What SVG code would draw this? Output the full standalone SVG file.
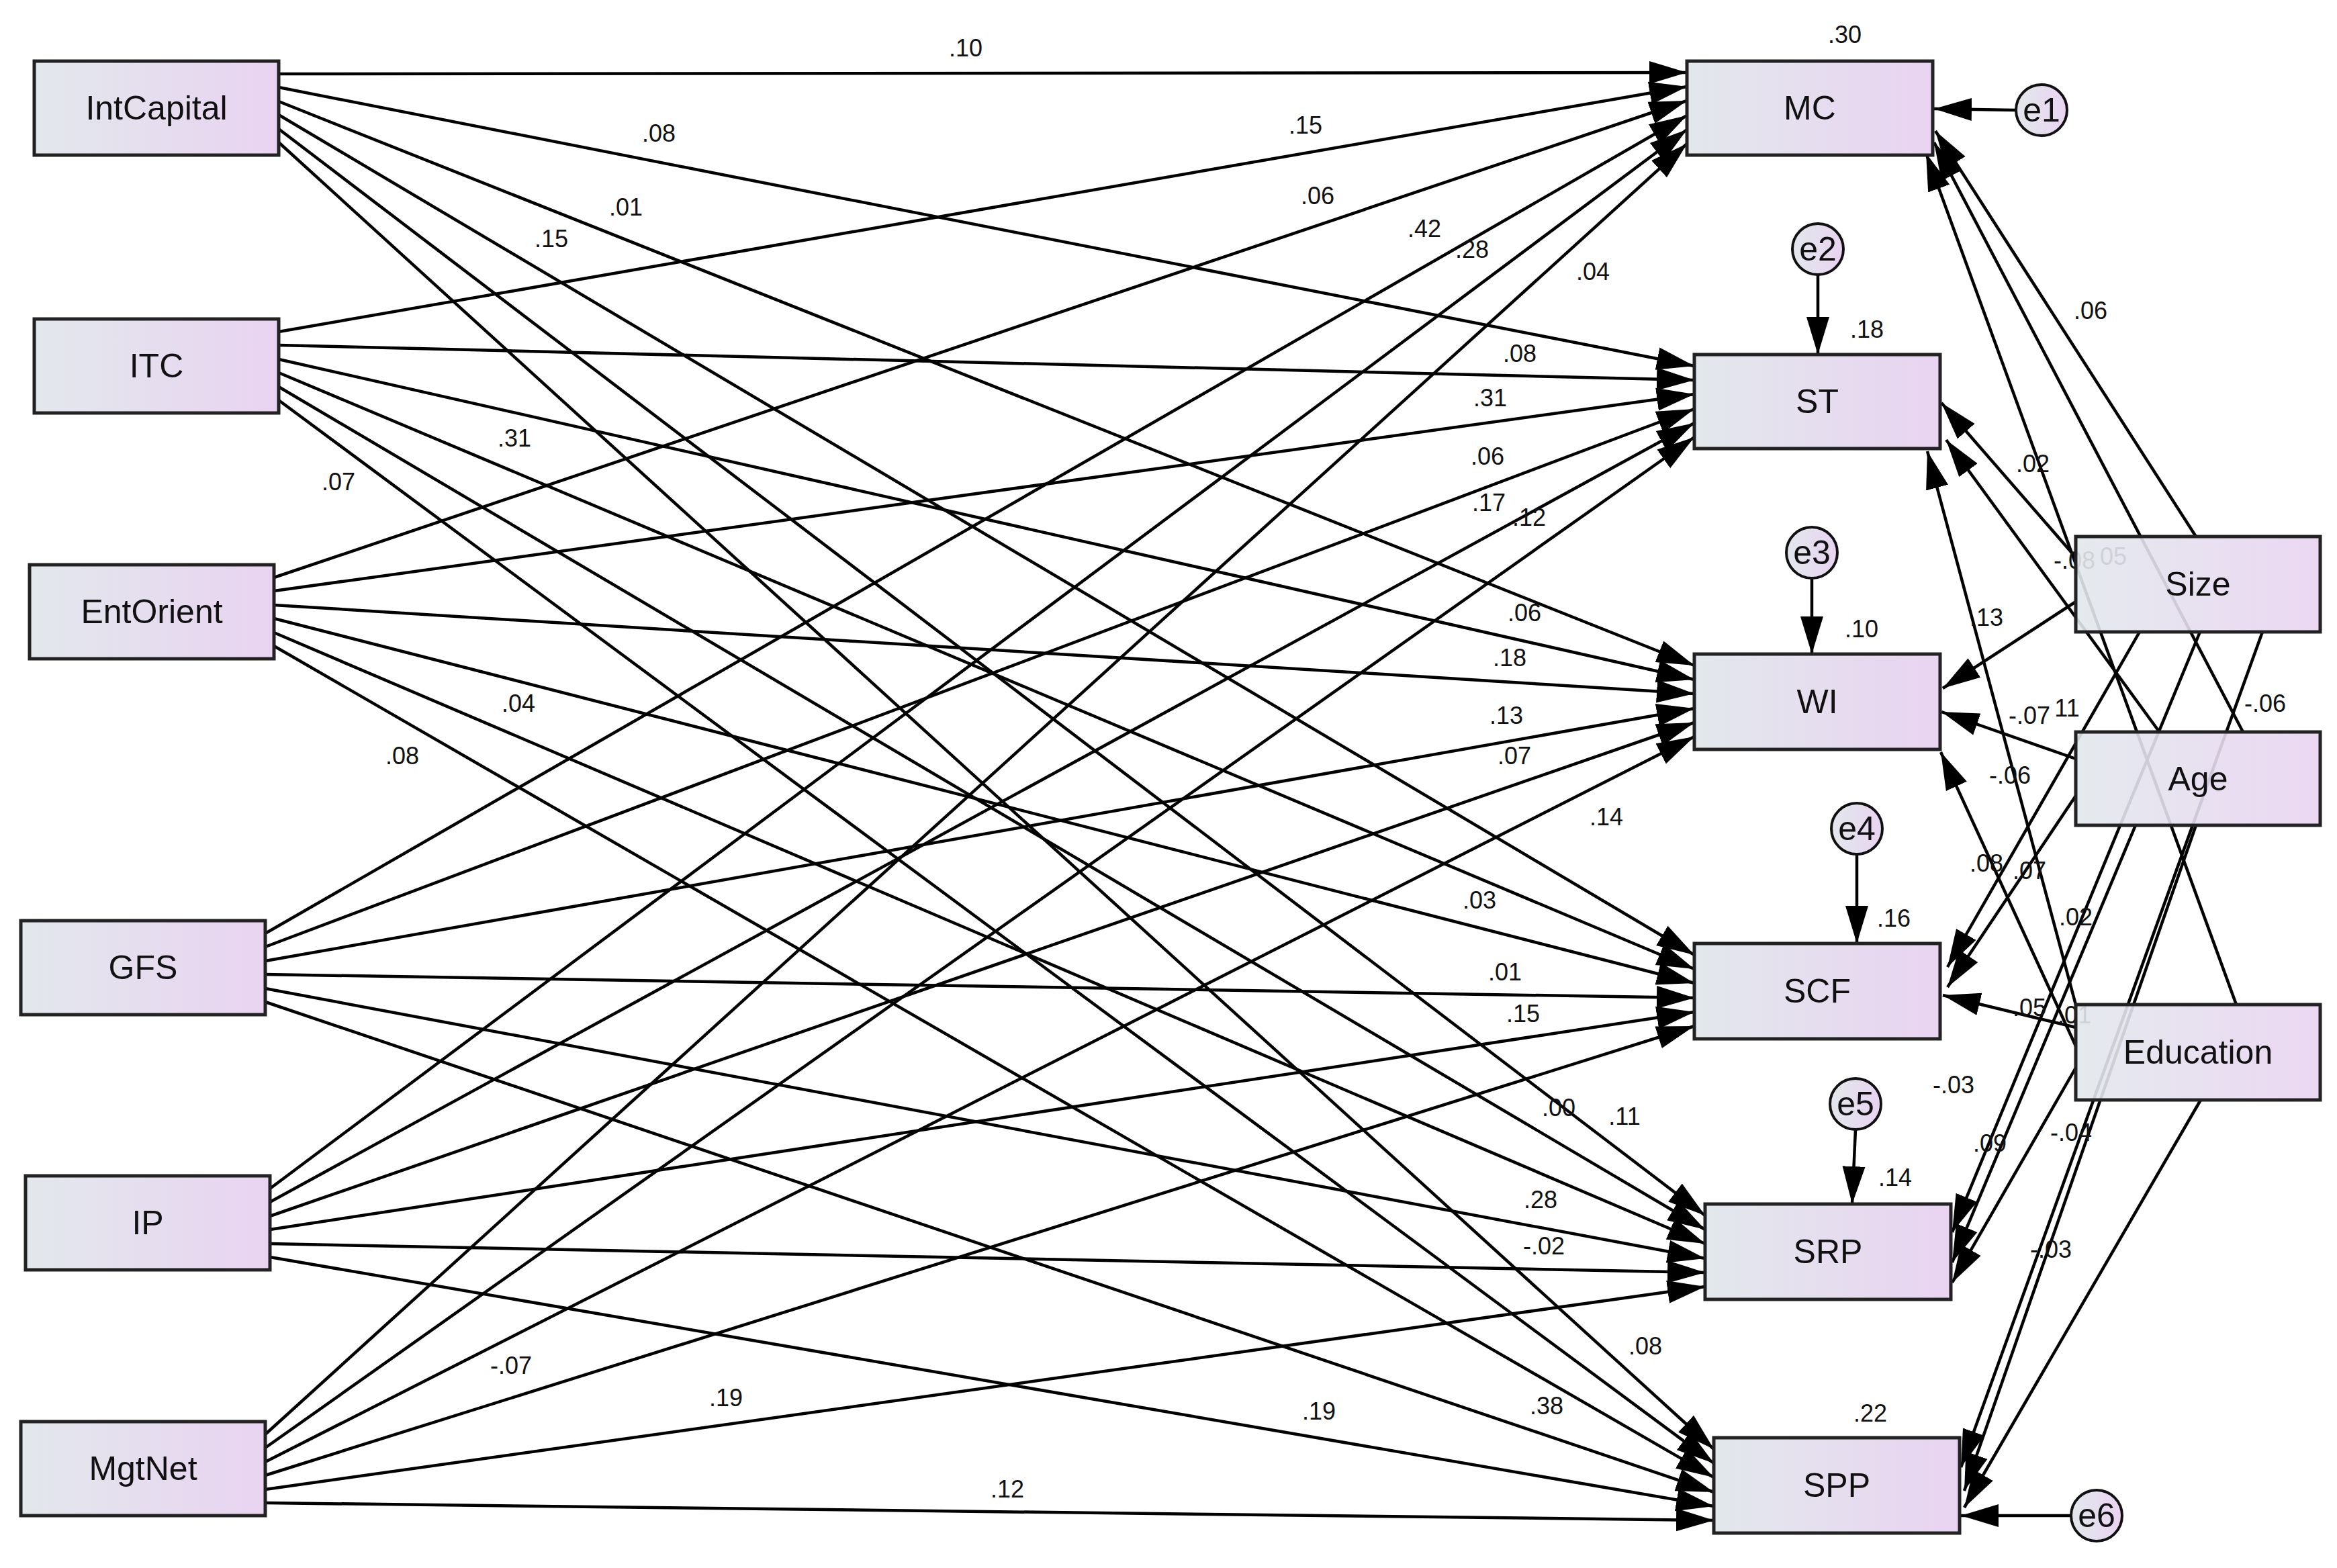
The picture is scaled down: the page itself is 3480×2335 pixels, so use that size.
<svg xmlns="http://www.w3.org/2000/svg" width="3480" height="2335" viewBox="0 0 3480 2335">
<defs>
<linearGradient id="g" x1="0" y1="0" x2="1" y2="0"><stop offset="0" stop-color="#e2e8ec"/><stop offset="1" stop-color="#e9d3f1"/></linearGradient>
<marker id="a" markerUnits="userSpaceOnUse" markerWidth="60" markerHeight="40" refX="56" refY="20" orient="auto"><path d="M0,3 L56,20 L0,37 Z" fill="#000"/></marker>
</defs>
<style>
.b{fill:url(#g);stroke:#222;stroke-width:5}
.e{fill:url(#g);stroke:#111;stroke-width:4}
.t{font-family:"Liberation Sans",Arial,sans-serif;font-size:50px;fill:#111;text-anchor:middle;dominant-baseline:central}
.l{font-family:"Liberation Sans",Arial,sans-serif;font-size:36px;fill:#111;text-anchor:middle;dominant-baseline:central}
#connectors line{stroke:#000;stroke-width:4.5;marker-end:url(#a)}
</style>
<rect width="3480" height="2335" fill="#fff"/>
<g id="connectors">
<line x1="415" y1="110" x2="2512" y2="108"/><line x1="415" y1="130" x2="2523" y2="545"/><line x1="415" y1="151" x2="2523" y2="991"/><line x1="415" y1="171" x2="2523" y2="1422"/><line x1="415" y1="192" x2="2539" y2="1810"/><line x1="415" y1="212" x2="2552" y2="2158"/>
<line x1="415" y1="494" x2="2512" y2="129"/><line x1="415" y1="514" x2="2523" y2="566"/><line x1="415" y1="535" x2="2523" y2="1012"/><line x1="415" y1="555" x2="2523" y2="1443"/><line x1="415" y1="576" x2="2539" y2="1831"/><line x1="415" y1="596" x2="2552" y2="2179"/>
<line x1="408" y1="860" x2="2512" y2="150"/><line x1="408" y1="880" x2="2523" y2="587"/><line x1="408" y1="901" x2="2523" y2="1033"/><line x1="408" y1="921" x2="2523" y2="1464"/><line x1="408" y1="942" x2="2539" y2="1852"/><line x1="408" y1="962" x2="2552" y2="2200"/>
<line x1="395" y1="1390" x2="2512" y2="172"/><line x1="395" y1="1410" x2="2523" y2="609"/><line x1="395" y1="1431" x2="2523" y2="1055"/><line x1="395" y1="1451" x2="2523" y2="1486"/><line x1="395" y1="1472" x2="2539" y2="1874"/><line x1="395" y1="1492" x2="2552" y2="2222"/>
<line x1="402" y1="1770" x2="2512" y2="193"/><line x1="402" y1="1790" x2="2523" y2="630"/><line x1="402" y1="1811" x2="2523" y2="1076"/><line x1="402" y1="1831" x2="2523" y2="1507"/><line x1="402" y1="1852" x2="2539" y2="1895"/><line x1="402" y1="1872" x2="2552" y2="2243"/>
<line x1="395" y1="2136" x2="2512" y2="214"/><line x1="395" y1="2156" x2="2523" y2="651"/><line x1="395" y1="2177" x2="2523" y2="1097"/><line x1="395" y1="2197" x2="2523" y2="1528"/><line x1="395" y1="2218" x2="2539" y2="1916"/><line x1="395" y1="2238" x2="2552" y2="2264"/>
<line x1="3270" y1="799" x2="2882" y2="195"/><line x1="3091" y1="830" x2="2891" y2="600"/><line x1="3091" y1="896" x2="2893" y2="1025"/><line x1="3186" y1="941" x2="2900" y2="1440"/><line x1="3276" y1="941" x2="2907" y2="1835"/><line x1="3369" y1="941" x2="2920" y2="2185"/>
<line x1="3340" y1="1090" x2="2880" y2="212"/><line x1="3217" y1="1092" x2="2898" y2="655"/><line x1="3091" y1="1130" x2="2891" y2="1060"/><line x1="3091" y1="1185" x2="2900" y2="1470"/><line x1="3180" y1="1229" x2="2907" y2="1880"/><line x1="3270" y1="1229" x2="2925" y2="2220"/>
<line x1="3330" y1="1496" x2="2868" y2="228"/><line x1="3092" y1="1500" x2="2870" y2="672"/><line x1="3092" y1="1560" x2="2890" y2="1120"/><line x1="3091" y1="1530" x2="2893" y2="1482"/><line x1="3091" y1="1590" x2="2907" y2="1910"/><line x1="3277" y1="1638" x2="2925" y2="2245"/>
<line x1="3002" y1="164" x2="2880" y2="162"/><line x1="2707" y1="409" x2="2707" y2="528"/><line x1="2698" y1="861" x2="2698" y2="974"/><line x1="2765" y1="1272" x2="2765" y2="1405"/><line x1="2763" y1="1682" x2="2758" y2="1793"/><line x1="3084" y1="2257" x2="2920" y2="2257"/>
</g>
<g id="path-labels">
<text class="l" x="1438" y="71">.10</text><text class="l" x="981" y="198">.08</text><text class="l" x="1944" y="186">.15</text><text class="l" x="932" y="308">.01</text><text class="l" x="1962" y="291">.06</text><text class="l" x="821" y="355">.15</text><text class="l" x="2121" y="340">.42</text><text class="l" x="2192" y="371">.28</text><text class="l" x="2372" y="404">.04</text><text class="l" x="2263" y="526">.08</text><text class="l" x="2219" y="592">.31</text><text class="l" x="766" y="652">.31</text><text class="l" x="504" y="717">.07</text><text class="l" x="2215" y="679">.06</text><text class="l" x="2217" y="748">.17</text><text class="l" x="2277" y="770">.12</text><text class="l" x="2270" y="912">.06</text><text class="l" x="2248" y="979">.18</text><text class="l" x="772" y="1047">.04</text><text class="l" x="2243" y="1065">.13</text><text class="l" x="2255" y="1125">.07</text><text class="l" x="599" y="1125">.08</text><text class="l" x="2392" y="1216">.14</text><text class="l" x="2203" y="1340">.03</text><text class="l" x="2241" y="1447">.01</text><text class="l" x="2268" y="1509">.15</text><text class="l" x="2321" y="1649">.00</text><text class="l" x="2419" y="1662">.11</text><text class="l" x="2294" y="1786">.28</text><text class="l" x="2299" y="1855">-.02</text><text class="l" x="2450" y="2004">.08</text><text class="l" x="761" y="2033">-.07</text><text class="l" x="1081" y="2081">.19</text><text class="l" x="1964" y="2101">.19</text><text class="l" x="2303" y="2093">.38</text><text class="l" x="1500" y="2217">.12</text>
<text class="l" x="3113" y="462">.06</text><text class="l" x="3027" y="690">.02</text><text class="l" x="3089" y="834">-.08</text><text class="l" x="3147" y="828">05</text><text class="l" x="2958" y="919">.13</text><text class="l" x="3022" y="1065">-.07</text><text class="l" x="3078" y="1054">11</text><text class="l" x="3373" y="1047">-.06</text><text class="l" x="2993" y="1154">-.06</text><text class="l" x="2958" y="1285">.08</text><text class="l" x="3022" y="1296">.07</text><text class="l" x="3091" y="1365">.02</text><text class="l" x="3022" y="1500">.05</text><text class="l" x="3089" y="1511">.01</text><text class="l" x="2909" y="1615">-.03</text><text class="l" x="2963" y="1702">.09</text><text class="l" x="3084" y="1686">-.04</text><text class="l" x="3054" y="1860">-.03</text>
<text class="l" x="2747" y="51">.30</text><text class="l" x="2780" y="490">.18</text><text class="l" x="2772" y="936">.10</text><text class="l" x="2820" y="1367">.16</text><text class="l" x="2822" y="1753">.14</text><text class="l" x="2785" y="2104">.22</text>
</g>
<g id="IntCapital"><rect class="b" x="51" y="91" width="364" height="140"/><text class="t" x="233" y="161">IntCapital</text></g>
<g id="ITC"><rect class="b" x="51" y="475" width="364" height="140"/><text class="t" x="233" y="545">ITC</text></g>
<g id="EntOrient"><rect class="b" x="44" y="841" width="364" height="140"/><text class="t" x="226" y="911">EntOrient</text></g>
<g id="GFS"><rect class="b" x="31" y="1371" width="364" height="140"/><text class="t" x="213" y="1441">GFS</text></g>
<g id="IP"><rect class="b" x="38" y="1751" width="364" height="140"/><text class="t" x="220" y="1821">IP</text></g>
<g id="MgtNet"><rect class="b" x="31" y="2117" width="364" height="140"/><text class="t" x="213" y="2187">MgtNet</text></g>
<g id="MC"><rect class="b" x="2512" y="91" width="366" height="140"/><text class="t" x="2695" y="161">MC</text></g>
<g id="ST"><rect class="b" x="2523" y="528" width="366" height="140"/><text class="t" x="2706" y="598">ST</text></g>
<g id="WI"><rect class="b" x="2523" y="974" width="366" height="142"/><text class="t" x="2706" y="1045">WI</text></g>
<g id="SCF"><rect class="b" x="2523" y="1405" width="366" height="142"/><text class="t" x="2706" y="1476">SCF</text></g>
<g id="SRP"><rect class="b" x="2539" y="1793" width="366" height="142"/><text class="t" x="2722" y="1864">SRP</text></g>
<g id="SPP"><rect class="b" x="2552" y="2141" width="366" height="142"/><text class="t" x="2735" y="2212">SPP</text></g>
<g id="Size"><rect class="b" x="3091" y="799" width="364" height="142" fill-opacity="0.9"/><text class="t" x="3273" y="870">Size</text></g>
<g id="Age"><rect class="b" x="3091" y="1090" width="364" height="139" fill-opacity="0.9"/><text class="t" x="3273" y="1160">Age</text></g>
<g id="Education"><rect class="b" x="3091" y="1496" width="364" height="142" fill-opacity="0.9"/><text class="t" x="3273" y="1567">Education</text></g>
<g id="e1"><circle class="e" cx="3040" cy="164" r="38"/><text class="t" x="3040" y="164">e1</text></g>
<g id="e2"><circle class="e" cx="2707" cy="371" r="38"/><text class="t" x="2707" y="371">e2</text></g>
<g id="e3"><circle class="e" cx="2698" cy="823" r="38"/><text class="t" x="2698" y="823">e3</text></g>
<g id="e4"><circle class="e" cx="2765" cy="1234" r="38"/><text class="t" x="2765" y="1234">e4</text></g>
<g id="e5"><circle class="e" cx="2763" cy="1644" r="38"/><text class="t" x="2763" y="1644">e5</text></g>
<g id="e6"><circle class="e" cx="3122" cy="2257" r="38"/><text class="t" x="3122" y="2257">e6</text></g>
</svg>
